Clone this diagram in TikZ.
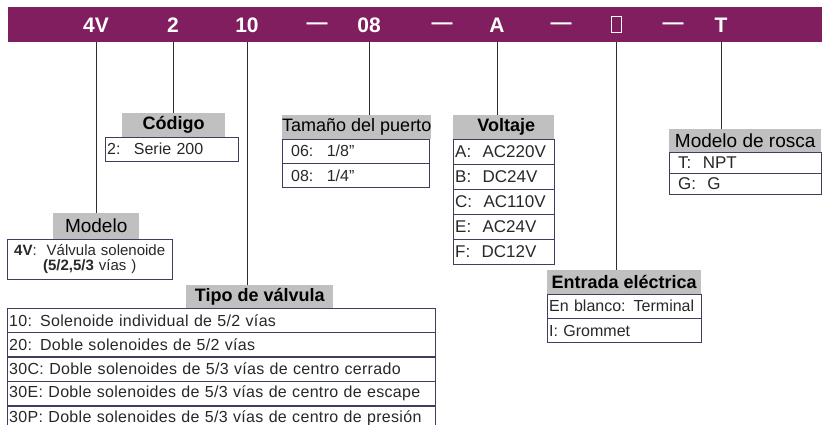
\documentclass[tikz,border=0pt]{standalone}
\usepackage{fontspec}
\setmainfont{Liberation Sans}
\usetikzlibrary{positioning}
\definecolor{barpurple}{RGB}{128,30,96}
\definecolor{headgray}{RGB}{192,192,192}
\definecolor{boxline}{RGB}{62,62,96}
\definecolor{linegray}{RGB}{45,45,45}
\definecolor{txtgray}{RGB}{40,40,40}
\newcommand{\fsz}[1]{\fontsize{#1}{#1}\selectfont}
\newcommand{\qt}{{\char"22}}

\begin{document}
\begin{tikzpicture}[x=1pt,y=-1pt,
    barlbl/.style={text=white,font=\fsz{21}\bfseries},
    head/.style={fill=headgray,inner sep=0pt,minimum height=24,anchor=north west,text=black,font=\fsz{18}},
    row/.style={draw=boxline,fill=white,anchor=north west,minimum height=24,inner xsep=2,inner ysep=0,
      text width=#1,align=left,text=txtgray,font=\fsz{16}},
    tiprow/.style={row=424,font=\fsz{16}\addfontfeature{LetterSpace=2}},
    link/.style={draw=linegray,line width=0.8}]
  \useasboundingbox (0,0) rectangle (830,425);
  % code bar
  \node[fill=barpurple,minimum width=814,minimum height=35,inner sep=0,anchor=north west] (bar) at (8,7) {};
  \node[barlbl] (b4V) at (96,25) {4V};
  \node[barlbl] (b2) at (173,25) {2};
  \node[barlbl] (b10) at (247,25) {10};
  \node[barlbl] (d1) at (317,26) {---};
  \node[barlbl] (b08) at (369,25) {08};
  \node[barlbl] (d2) at (442,26) {---};
  \node[barlbl] (bA) at (497,25) {A};
  \node[barlbl] (d3) at (561,26) {---};
  \node[draw=white,line width=0.9,minimum width=10,minimum height=16,inner sep=0] (bbox) at (616,24) {};
  \node[barlbl] (d4) at (673,26) {---};
  \node[barlbl] (bT) at (721,25) {T};

  % Codigo
  \node[head,minimum width=103,font=\fsz{18}\bfseries] (hcod) at (122,113) {Código};
  \node[row=129] (rcod1) at (105,137) {2: \ Serie 200};

  % Tamano del puerto
  \node[head,minimum width=147] (hpto) at (282,115) {Tamaño del puerto};
  \node[row=129,inner xsep=9] (rpto1) at (282,139) {06: \ 1/8\qt};
  \node[row=129,inner xsep=9,below=0pt of rpto1] (rpto2) {08: \ 1/4\qt};

  % Voltaje
  \node[head,minimum width=101,font=\fsz{18}\bfseries] (hvol) at (453,115) {\ Voltaje\hfill};
  \node[row=97,minimum height=24.6,font=\fsz{17}] (rvol1) at (453,139) {A: \ AC220V};
  \node[row=97,minimum height=24.6,font=\fsz{17},below=0pt of rvol1] (rvol2) {B: \ DC24V};
  \node[row=97,minimum height=24.6,font=\fsz{17},below=0pt of rvol2] (rvol3) {C: \ AC110V};
  \node[row=97,minimum height=24.6,font=\fsz{17},below=0pt of rvol3] (rvol4) {E: \ AC24V};
  \node[row=97,minimum height=24.6,font=\fsz{17},below=0pt of rvol4] (rvol5) {F: \ DC12V};

  % Modelo de rosca
  \node[head,minimum width=152,minimum height=23,font=\fsz{19}] (hros) at (669,129) {Modelo de rosca};
  \node[row=134,inner xsep=9,minimum height=21,font=\fsz{17}] (rros1) at (669,152) {T: \ NPT};
  \node[row=134,inner xsep=9,minimum height=21,font=\fsz{17},below=0pt of rros1] (rros2) {G: \ G};

  % Entrada electrica
  \node[head,minimum width=154,font=\fsz{18}\bfseries] (hent) at (547,270) {Entrada eléctrica};
  \node[row=150] (rent1) at (547,294) {En blanco: Terminal};
  \node[row=150,below=0pt of rent1] (rent2) {I: Grommet};

  % Modelo
  \node[head,minimum width=86,minimum height=26,font=\fsz{19}] (hmod) at (53,213) {Modelo};
  \node[row=161,minimum height=40,align=center,font=\fsz{15}] (rmod1) at (7,239)
    {\textbf{4V}: \ Válvula solenoide\\\textbf{(5/2,5/3} vías )};

  % Tipo de valvula
  \node[head,minimum width=147,minimum height=23,font=\fsz{18}\bfseries] (htip) at (186,285) {Tipo de válvula};
  \node[tiprow] (rtip1) at (7,308) {10: Solenoide individual de 5/2 vías};
  \node[tiprow,below=0pt of rtip1] (rtip2) {20: Doble solenoides de 5/2 vías};
  \node[tiprow,below=0pt of rtip2] (rtip3) {30C: Doble solenoides de 5/3 vías de centro cerrado};
  \node[tiprow,below=0pt of rtip3] (rtip4) {30E: Doble solenoides de 5/3 vías de centro de escape};
  \node[tiprow,below=0pt of rtip4] (rtip5) {30P: Doble solenoides de 5/3 vías de centro de presión};

  % links from the code bar
  \draw[link] (b4V |- bar.south) -- (b4V |- hmod.north);
  \draw[link] (b2 |- bar.south) -- (b2 |- hcod.north);
  \draw[link] (b10 |- bar.south) -- (b10 |- htip.north);
  \draw[link] (b08 |- bar.south) -- (b08 |- hpto.north);
  \draw[link] (bA |- bar.south) -- (bA |- hvol.north);
  \draw[link] (bbox |- bar.south) -- (bbox |- hent.north);
  \draw[link] (bT |- bar.south) -- (bT |- hros.north);
\end{tikzpicture}
\end{document}
